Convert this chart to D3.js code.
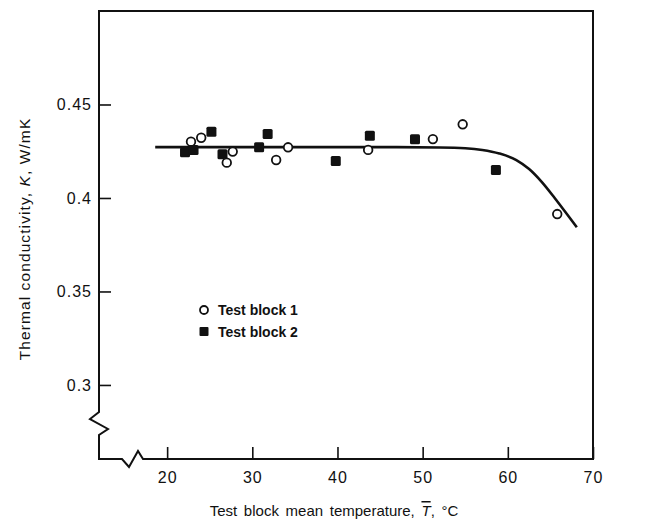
<!DOCTYPE html>
<html>
<head>
<meta charset="utf-8">
<script src="https://cdn.jsdelivr.net/npm/d3@7"></script>
<style>
  body { margin: 0; background: #fff; }
  svg { display: block; }
  text { font-family: "Liberation Sans", Arial, sans-serif; fill: #111; }
</style>
</head>
<body>
<svg id="chart" width="662" height="522"></svg>
<script>
(function() {
  'use strict';

  // values
  var block1T = [22.8, 24.0, 27.0, 27.7, 32.8, 34.2, 43.6, 51.2, 54.7, 65.8];
  var block1K = [0.4301, 0.4322, 0.4189, 0.4248, 0.4203, 0.4271, 0.4257, 0.4315, 0.4394, 0.3914];
  var block2T = [22.1, 23.1, 25.2, 26.5, 30.8, 31.8, 39.8, 43.8, 49.1, 58.6];
  var block2K = [0.4244, 0.4257, 0.4354, 0.4234, 0.4271, 0.4342, 0.4198, 0.4333, 0.4314, 0.415];
  var fitT = [18.6, 45, 52, 55, 57, 59, 61, 62.5, 64, 65.5, 67, 68.1];
  var fitK = [0.4272, 0.4272, 0.427, 0.4266, 0.4257, 0.4238, 0.4203, 0.4155, 0.4085, 0.4, 0.391, 0.3843];

  var xTicks = [20, 30, 40, 50, 60, 70];
  var yTicks = [0.3, 0.35, 0.4, 0.45];
  var legendLabels = ['Test block 1', 'Test block 2'];

  var svg = d3.select('#chart');
  var x = d3.scaleLinear().domain([12, 70]).range([99, 593]);
  var y = d3.scaleLinear().domain([0.2604, 0.5]).range([459, 11]);

  var x0 = x.range()[0], x1 = x.range()[1],
    y0 = y.range()[0], y1 = y.range()[1];

  // axes: inward ticks, the frame is drawn separately
  var gx = svg.append('g')
    .attr('transform', 'translate(0,' + y0 + ')')
    .call(d3.axisBottom(x).tickValues(xTicks).tickSizeInner(-12).tickSizeOuter(0).tickPadding(13));
  var gy = svg.append('g')
    .attr('transform', 'translate(' + x0 + ',0)')
    .call(d3.axisLeft(y).tickValues(yTicks).tickSizeInner(-12).tickSizeOuter(0).tickPadding(7)
      .tickFormat(function(d) { return String(d); }));

  [gx, gy].forEach(function(g) {
    g.select('.domain').remove();
    g.selectAll('.tick line').attr('stroke', '#111').attr('stroke-width', 1.6);
    g.selectAll('.tick text')
      .style('font-size', '16px')
      .style('letter-spacing', '1px')
      .attr('fill', '#111');
  });

  // frame with the two axis breaks
  var frame = d3.path();
  frame.moveTo(x0, y1);
  frame.lineTo(x1, y1);
  frame.lineTo(x1, y0);
  frame.lineTo(x0 + 44, y0);
  frame.lineTo(x0 + 39, y0 - 8);
  frame.lineTo(x0 + 30, y0 + 8);
  frame.lineTo(x0 + 23, y0);
  frame.lineTo(x0, y0);
  frame.lineTo(x0, y0 - 24);
  frame.lineTo(x0 + 9, y0 - 30);
  frame.lineTo(x0 - 9, y0 - 40);
  frame.lineTo(x0, y0 - 47);
  frame.closePath();

  svg.append('path')
    .attr('d', frame.toString())
    .attr('fill', 'none')
    .attr('stroke', '#111')
    .attr('stroke-width', 2)
    .attr('stroke-linejoin', 'miter');

  // fitted curve
  var line = d3.line()
    .x(function(d) { return x(d[0]); })
    .y(function(d) { return y(d[1]); })
    .curve(d3.curveMonotoneX);

  svg.append('path')
    .datum(d3.zip(fitT, fitK))
    .attr('d', line)
    .attr('fill', 'none')
    .attr('stroke', '#111')
    .attr('stroke-width', 2.6);

  svg.append('g').selectAll('rect')
    .data(d3.zip(block2T, block2K))
    .join('rect')
    .attr('x', function(d) { return x(d[0]) - 5; })
    .attr('y', function(d) { return y(d[1]) - 5; })
    .attr('width', 10)
    .attr('height', 10)
    .attr('rx', 1.5)
    .attr('fill', '#111');

  svg.append('g').selectAll('circle')
    .data(d3.zip(block1T, block1K))
    .join('circle')
    .attr('cx', function(d) { return x(d[0]); })
    .attr('cy', function(d) { return y(d[1]); })
    .attr('r', 4.3)
    .attr('fill', '#fff')
    .attr('stroke', '#111')
    .attr('stroke-width', 1.8);

  // legend
  var lg = svg.append('g').attr('transform', 'translate(204,310)');
  lg.append('circle').attr('r', 4).attr('fill', '#fff').attr('stroke', '#111').attr('stroke-width', 1.8);
  lg.append('rect').attr('x', -4.5).attr('y', 17).attr('width', 9).attr('height', 9).attr('rx', 1).attr('fill', '#111');
  lg.selectAll('text')
    .data(legendLabels)
    .join('text')
    .attr('x', 14)
    .attr('y', function(d, i) { return i * 21.7; })
    .attr('dy', '0.36em')
    .style('font-size', '14px')
    .style('font-weight', 'bold')
    .text(function(d) { return d; });

  // axis titles
  var xt = svg.append('text')
    .attr('x', 334)
    .attr('y', 516)
    .attr('text-anchor', 'middle')
    .style('font-size', '15px')
    .style('word-spacing', '2.5px');
  xt.append('tspan').text('Test block mean temperature, ');
  xt.append('tspan').style('font-style', 'italic').style('text-decoration', 'overline').text('T');
  xt.append('tspan').text(', \u00B0C');

  var yt = svg.append('text')
    .attr('transform', 'translate(30,' + 239 + ') rotate(-90)')
    .attr('text-anchor', 'middle')
    .style('font-size', '15.5px')
    .style('letter-spacing', '1.1px');
  yt.append('tspan').text('Thermal conductivity, ');
  yt.append('tspan').style('font-style', 'italic').text('K');
  yt.append('tspan').text(', W/mK');
})();
</script>
</body>
</html>
